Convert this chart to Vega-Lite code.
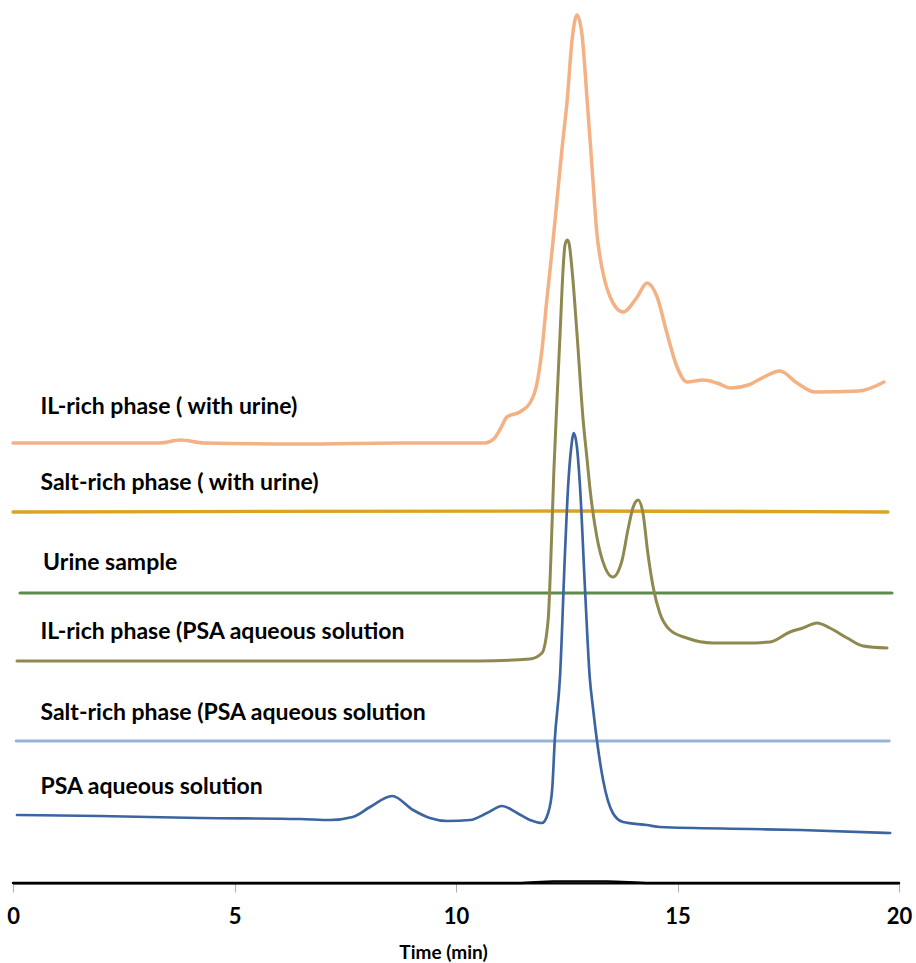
{
  "$schema": "https://vega.github.io/schema/vega-lite/v6.json",
  "width": 886,
  "height": 883,
  "autosize": {"type": "none"},
  "padding": {"left": 13, "right": 17, "top": 0, "bottom": 80},
  "background": "white",
  "config": {"view": {"stroke": null}},
  "datasets": {
    "traces": [
      {"s": "orange", "t": 0, "v": 440}, {"s": "orange", "t": 1.96, "v": 440}, {"s": "orange", "t": 3.3, "v": 440}, {"s": "orange", "t": 3.79, "v": 443}, {"s": "orange", "t": 4.3, "v": 440}, {"s": "orange", "t": 6.48, "v": 439}, {"s": "orange", "t": 8.74, "v": 440}, {"s": "orange", "t": 10.65, "v": 440}, {"s": "orange", "t": 10.85, "v": 444}, {"s": "orange", "t": 11.0, "v": 454}, {"s": "orange", "t": 11.15, "v": 466}, {"s": "orange", "t": 11.44, "v": 471}, {"s": "orange", "t": 11.67, "v": 480}, {"s": "orange", "t": 11.83, "v": 500}, {"s": "orange", "t": 11.94, "v": 533}, {"s": "orange", "t": 12.05, "v": 583}, {"s": "orange", "t": 12.17, "v": 633}, {"s": "orange", "t": 12.28, "v": 683}, {"s": "orange", "t": 12.39, "v": 733}, {"s": "orange", "t": 12.51, "v": 783}, {"s": "orange", "t": 12.62, "v": 843}, {"s": "orange", "t": 12.73, "v": 868}, {"s": "orange", "t": 12.84, "v": 850}, {"s": "orange", "t": 12.96, "v": 783}, {"s": "orange", "t": 13.07, "v": 716}, {"s": "orange", "t": 13.18, "v": 650}, {"s": "orange", "t": 13.32, "v": 610}, {"s": "orange", "t": 13.48, "v": 586}, {"s": "orange", "t": 13.77, "v": 571}, {"s": "orange", "t": 14.09, "v": 586}, {"s": "orange", "t": 14.31, "v": 600}, {"s": "orange", "t": 14.54, "v": 586}, {"s": "orange", "t": 14.76, "v": 550}, {"s": "orange", "t": 14.99, "v": 516}, {"s": "orange", "t": 15.21, "v": 501}, {"s": "orange", "t": 15.58, "v": 503}, {"s": "orange", "t": 15.89, "v": 500}, {"s": "orange", "t": 16.2, "v": 495}, {"s": "orange", "t": 16.6, "v": 498}, {"s": "orange", "t": 16.95, "v": 506}, {"s": "orange", "t": 17.31, "v": 512}, {"s": "orange", "t": 17.7, "v": 500}, {"s": "orange", "t": 18.1, "v": 491}, {"s": "orange", "t": 19.1, "v": 492}, {"s": "orange", "t": 19.66, "v": 501},
      {"s": "gold", "t": 0, "v": 371}, {"s": "gold", "t": 12.5, "v": 372}, {"s": "gold", "t": 19.75, "v": 371},
      {"s": "green", "t": 0.16, "v": 290}, {"s": "green", "t": 19.84, "v": 290},
      {"s": "olive", "t": 0.09, "v": 222}, {"s": "olive", "t": 4.22, "v": 222}, {"s": "olive", "t": 8.74, "v": 222}, {"s": "olive", "t": 10.54, "v": 222}, {"s": "olive", "t": 11.67, "v": 224}, {"s": "olive", "t": 11.94, "v": 230}, {"s": "olive", "t": 12.08, "v": 263}, {"s": "olive", "t": 12.14, "v": 323}, {"s": "olive", "t": 12.21, "v": 413}, {"s": "olive", "t": 12.28, "v": 483}, {"s": "olive", "t": 12.35, "v": 550}, {"s": "olive", "t": 12.42, "v": 616}, {"s": "olive", "t": 12.46, "v": 638}, {"s": "olive", "t": 12.51, "v": 643}, {"s": "olive", "t": 12.55, "v": 640}, {"s": "olive", "t": 12.62, "v": 613}, {"s": "olive", "t": 12.73, "v": 550}, {"s": "olive", "t": 12.87, "v": 463}, {"s": "olive", "t": 12.96, "v": 423}, {"s": "olive", "t": 13.02, "v": 396}, {"s": "olive", "t": 13.18, "v": 346}, {"s": "olive", "t": 13.36, "v": 316}, {"s": "olive", "t": 13.54, "v": 306}, {"s": "olive", "t": 13.75, "v": 323}, {"s": "olive", "t": 13.88, "v": 353}, {"s": "olive", "t": 14.0, "v": 376}, {"s": "olive", "t": 14.11, "v": 383}, {"s": "olive", "t": 14.22, "v": 370}, {"s": "olive", "t": 14.33, "v": 330}, {"s": "olive", "t": 14.45, "v": 296}, {"s": "olive", "t": 14.6, "v": 270}, {"s": "olive", "t": 14.83, "v": 253}, {"s": "olive", "t": 15.21, "v": 245}, {"s": "olive", "t": 15.8, "v": 240}, {"s": "olive", "t": 16.57, "v": 240}, {"s": "olive", "t": 17.09, "v": 241}, {"s": "olive", "t": 17.54, "v": 251}, {"s": "olive", "t": 17.83, "v": 255}, {"s": "olive", "t": 18.15, "v": 260}, {"s": "olive", "t": 18.44, "v": 255}, {"s": "olive", "t": 18.83, "v": 245}, {"s": "olive", "t": 19.19, "v": 237}, {"s": "olive", "t": 19.73, "v": 235},
      {"s": "lightblue", "t": 0.07, "v": 142}, {"s": "lightblue", "t": 19.78, "v": 142},
      {"s": "blue", "t": 0.09, "v": 68}, {"s": "blue", "t": 1.96, "v": 67}, {"s": "blue", "t": 4.22, "v": 65}, {"s": "blue", "t": 6.48, "v": 64}, {"s": "blue", "t": 7.16, "v": 63}, {"s": "blue", "t": 7.67, "v": 66}, {"s": "blue", "t": 8.06, "v": 76}, {"s": "blue", "t": 8.56, "v": 87}, {"s": "blue", "t": 9.03, "v": 73}, {"s": "blue", "t": 9.41, "v": 65}, {"s": "blue", "t": 9.8, "v": 62}, {"s": "blue", "t": 10.32, "v": 63}, {"s": "blue", "t": 10.7, "v": 70}, {"s": "blue", "t": 11.04, "v": 77}, {"s": "blue", "t": 11.38, "v": 70}, {"s": "blue", "t": 11.67, "v": 63}, {"s": "blue", "t": 11.94, "v": 60}, {"s": "blue", "t": 12.08, "v": 70}, {"s": "blue", "t": 12.17, "v": 93}, {"s": "blue", "t": 12.23, "v": 143}, {"s": "blue", "t": 12.35, "v": 208}, {"s": "blue", "t": 12.46, "v": 330}, {"s": "blue", "t": 12.53, "v": 396}, {"s": "blue", "t": 12.6, "v": 435}, {"s": "blue", "t": 12.66, "v": 450}, {"s": "blue", "t": 12.73, "v": 436}, {"s": "blue", "t": 12.8, "v": 396}, {"s": "blue", "t": 12.91, "v": 296}, {"s": "blue", "t": 13.02, "v": 205}, {"s": "blue", "t": 13.09, "v": 176}, {"s": "blue", "t": 13.18, "v": 143}, {"s": "blue", "t": 13.32, "v": 103}, {"s": "blue", "t": 13.54, "v": 70}, {"s": "blue", "t": 13.77, "v": 61}, {"s": "blue", "t": 14.31, "v": 58}, {"s": "blue", "t": 14.6, "v": 56}, {"s": "blue", "t": 16.64, "v": 54}, {"s": "blue", "t": 17.77, "v": 53}, {"s": "blue", "t": 19.8, "v": 50},
      {"s": "black", "t": 0, "v": 0}, {"s": "black", "t": 11.4, "v": 0}, {"s": "black", "t": 12.2, "v": 1.5}, {"s": "black", "t": 13.4, "v": 1.5}, {"s": "black", "t": 14.4, "v": 0}, {"s": "black", "t": 20, "v": 0}
    ],
    "labels": [
      {"label": "IL-rich phase ( with urine)", "t": 0.62, "v": 476},
      {"label": "Salt-rich phase ( with urine)", "t": 0.62, "v": 400},
      {"label": "Urine sample", "t": 0.68, "v": 320},
      {"label": "IL-rich phase (PSA aqueous solution", "t": 0.62, "v": 251},
      {"label": "Salt-rich phase (PSA aqueous solution", "t": 0.62, "v": 170},
      {"label": "PSA aqueous solution", "t": 0.62, "v": 96}
    ]
  },
  "layer": [
    {
      "data": {"name": "traces"},
      "mark": {"type": "line", "interpolate": "monotone", "strokeCap": "round", "strokeJoin": "round"},
      "encoding": {
        "x": {"field": "t", "type": "quantitative", "scale": {"domain": [0, 20], "nice": false, "zero": false},
          "axis": {"values": [0, 5, 10, 15, 20], "title": "Time (min)", "grid": false,
            "domainColor": "#000000", "domainWidth": 2, "tickColor": "#b0b0b0", "tickWidth": 1, "tickSize": 9,
            "labelFont": "Lato", "labelFontSize": 22, "labelFontWeight": "bold", "labelColor": "#000000", "labelPadding": 14,
            "labelFlush": false,
            "titleFont": "Lato", "titleFontSize": 19, "titleFontWeight": "bold", "titleColor": "#000000", "titlePadding": 16,
            "titleX": 430, "titleAnchor": "middle", "titleAlign": "center"}},
        "y": {"field": "v", "type": "quantitative", "scale": {"domain": [0, 883], "nice": false, "zero": false}, "axis": null},
        "color": {"field": "s", "type": "nominal", "legend": null,
          "scale": {"domain": ["orange", "gold", "green", "olive", "lightblue", "blue", "black"],
                    "range": ["#F4B183", "#D9A521", "#5E8B48", "#8F8950", "#95B3D7", "#3B64A0", "#000000"]}},
        "strokeWidth": {"field": "s", "type": "nominal", "legend": null,
          "scale": {"domain": ["orange", "gold", "green", "olive", "lightblue", "blue", "black"],
                    "range": [3.5, 2.5, 3.5, 4, 2.5, 3.5, 1.5]}},
        "detail": {"field": "s"}
      }
    },
    {
      "data": {"name": "labels"},
      "mark": {"type": "text", "align": "left", "baseline": "middle", "font": "Lato", "fontSize": 23, "fontWeight": "bold", "color": "#000000"},
      "encoding": {
        "x": {"field": "t", "type": "quantitative"},
        "y": {"field": "v", "type": "quantitative"},
        "text": {"field": "label", "type": "nominal"}
      }
    }
  ]
}
